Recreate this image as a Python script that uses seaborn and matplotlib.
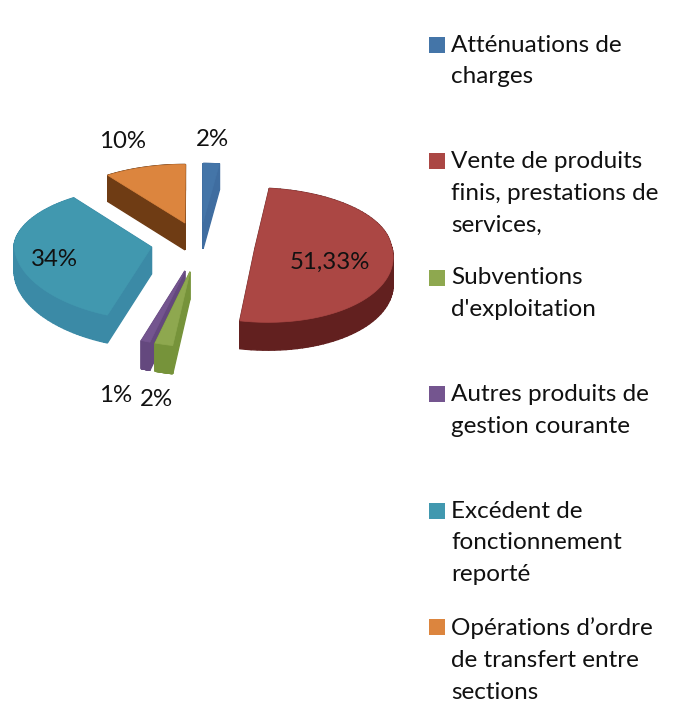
import matplotlib
matplotlib.use("Agg")
import matplotlib.pyplot as plt
import seaborn as sns
import numpy as np

# values as printed on the chart
categories = [
    "Atténuations de\ncharges",
    "Vente de produits\nfinis, prestations de\nservices,",
    "Subventions\nd'exploitation",
    "Autres produits de\ngestion courante",
    "Excédent de\nfonctionnement\nreporté",
    "Opérations d’ordre\nde transfert entre\nsections",
]
values = [2, 51.33, 2, 1, 34, 10]
value_labels = ["2%", "51,33%", "2%", "1%", "34%", "10%"]

top_colors = ["#4475A8", "#AB4744", "#8EA84F", "#74558F", "#4198AF", "#DC853E"]
side_colors = ["#3F6DA0", "#62201F", "#76933A", "#64487E", "#3B8AA6", "#6F3C14"]
explode = [0.36, 0.40, 0.40, 0.40, 0.36, 0.36]
label_xy = [(212, 140), (330, 262), (156, 399), (116, 395), (54, 260), (123, 141)]

# fake 3D view
CX, CY = 200, 244
RADIUS = 137
SQUASH_BACK = 0.45
SQUASH_FRONT = 0.52
SHEAR = 0.08
PERSP = 0.03
DEPTH = 27


def project(gx, gy, lift=0.0):
    """Ground plane of the pie -> pixel position, the near half is seen steeper."""
    gx, gy = np.asarray(gx), np.asarray(gy)
    s = 1 / (1 + PERSP * gy)
    squash = np.where(gy < 0, SQUASH_FRONT, SQUASH_BACK)
    near = np.minimum(gy, 0)
    return CX + RADIUS * (gx - SHEAR * near) * s, CY - RADIUS * squash * gy * s + lift * s


def draw_slice(ax, wedge, top, side):
    t = np.radians(np.linspace(wedge.theta1, wedge.theta2, 80))
    x0, y0 = wedge.center
    gx = np.concatenate([[x0], x0 + wedge.r * np.cos(t)])
    gy = np.concatenate([[y0], y0 + wedge.r * np.sin(t)])

    # side faces, back to front
    faces = []
    for i in range(len(gx)):
        j = (i + 1) % len(gx)
        faces.append(((gy[i] + gy[j]) / 2, i, j))
    for _, i, j in sorted(faces, reverse=True):
        xa, ya = project(gx[[i, j]], gy[[i, j]])
        xb, yb = project(gx[[j, i]], gy[[j, i]], DEPTH)
        ax.fill(np.r_[xa, xb], np.r_[ya, yb], color=side, lw=1)

    xt, yt = project(gx, gy)
    ax.fill(xt, yt, color=top, lw=0.5)


sns.set_theme(style="white")
plt.rcParams["font.family"] = ["Lato", "DejaVu Sans"]

fig = plt.figure(figsize=(6.8, 7.04), dpi=100)
ax = fig.add_axes([0, 0, 1, 1])

wedges, _ = ax.pie(values, explode=explode, startangle=90, counterclock=False,
                   colors=sns.color_palette(top_colors))
for w in wedges:
    w.remove()

ax.set_aspect("auto")
ax.set_xlim(0, 680)
ax.set_ylim(704, 0)
ax.axis("off")

order = sorted(range(len(wedges)), key=lambda i: -wedges[i].center[1])
for i in order:
    draw_slice(ax, wedges[i], top_colors[i], side_colors[i])

for (x, y), txt in zip(label_xy, value_labels):
    ax.text(x, y, txt, ha="center", va="center", fontsize=17.3, color="#111111")

# legend has a fixed pitch whatever the number of lines
for i, (name, color) in enumerate(zip(categories, top_colors)):
    y = 44.5 + i * 116.5
    ax.scatter([436.5], [y], marker="s", s=120, color=color, linewidths=0)
    ax.text(451, y - 10, name, ha="left", va="top", fontsize=17.5,
            color="#111111", linespacing=1.64)

fig.savefig("out.png", dpi=100)
